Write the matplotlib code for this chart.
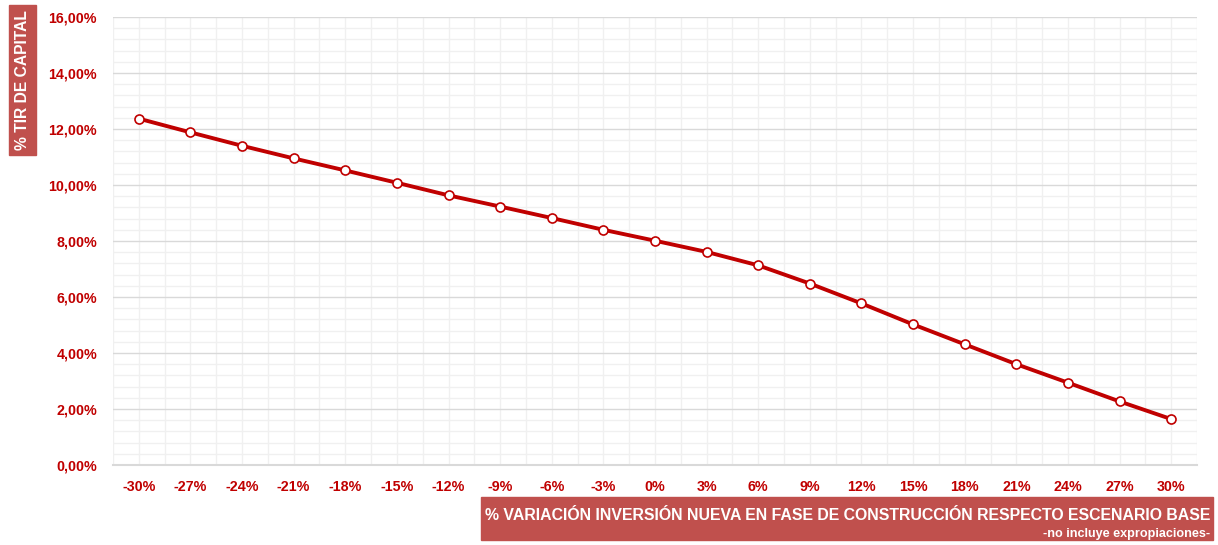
import numpy as np
import matplotlib.pyplot as plt
from matplotlib.patches import Rectangle
from matplotlib.ticker import FuncFormatter, MultipleLocator

# variacion de la inversion y TIR resultante
variacion = [-30, -27, -24, -21, -18, -15, -12, -9, -6, -3, 0, 3, 6, 9, 12, 15, 18, 21, 24, 27, 30]
tir = [12.37, 11.88, 11.40, 10.95, 10.52, 10.08, 9.63, 9.23, 8.82, 8.40, 8.01,
       7.61, 7.13, 6.48, 5.77, 5.02, 4.31, 3.60, 2.94, 2.27, 1.64]
etiquetas_x = [f"{v}%" for v in variacion]

rojo = '#C00000'
caja = '#C0504D'
plt.rcParams['font.family'] = ['Liberation Sans', 'DejaVu Sans']

fig = plt.figure(figsize=(12.18, 5.45), dpi=100)
ax = fig.add_axes([113 / 1218, 80 / 545, 1084 / 1218, 448 / 545])

x = np.arange(len(variacion))
ax.plot(x, tir, color=rojo, lw=2.8, marker='o', ms=6.5, mfc='white', mec=rojo, mew=1.2, zorder=5)

ax.set_xlim(-0.5, len(variacion) - 0.5)
ax.set_ylim(0, 16)
ax.set_xticks(x)
ax.set_xticklabels(etiquetas_x)
ax.yaxis.set_major_locator(MultipleLocator(2))
ax.yaxis.set_minor_locator(MultipleLocator(0.4))
ax.yaxis.set_major_formatter(FuncFormatter(lambda v, p: f"{v:.2f}".replace('.', ',') + '%'))

# rejilla
for xv in np.arange(-0.5, len(variacion), 0.5):
    ax.axvline(xv, color='#F0F0F0', lw=1, zorder=0)
ax.grid(axis='y', which='minor', color='#F0F0F0', lw=1, zorder=0)
ax.grid(axis='y', which='major', color='#D9D9D9', lw=1, zorder=1)

for s in ['top', 'right', 'left']:
    ax.spines[s].set_visible(False)
ax.spines['bottom'].set_color('#D9D9D9')
ax.spines['bottom'].set_linewidth(1.5)
ax.tick_params(axis='both', which='both', length=0, colors=rojo, labelsize=10.3)
ax.tick_params(axis='y', pad=11.5)
ax.tick_params(axis='x', pad=11)
for t in ax.get_xticklabels() + ax.get_yticklabels():
    t.set_fontweight('bold')

# titulo eje y
fig.patches.append(Rectangle((9 / 1218, 390 / 545), 27 / 1218, 150 / 545,
                             transform=fig.transFigure, color=caja, zorder=0))
t_y = fig.text(23 / 1218, 465 / 545, '% TIR DE CAPITAL', rotation=90, color='white',
               fontsize=12, fontweight='bold', ha='center', va='center')

# titulo eje x
fig.patches.append(Rectangle((481 / 1218, 5 / 545), 732 / 1218, 43 / 545,
                             transform=fig.transFigure, color=caja, zorder=0))
t_x1 = fig.text(1210 / 1218, 30 / 545, '% VARIACIÓN INVERSIÓN NUEVA EN FASE DE CONSTRUCCIÓN RESPECTO ESCENARIO BASE',
                color='white', fontsize=11, fontweight='bold', ha='right', va='center')
t_x2 = fig.text(1210 / 1218, 11 / 545, '-no incluye expropiaciones-',
                color='white', fontsize=8, fontweight='bold', ha='right', va='center')

# ajustar tamanos de los titulos al ancho de las cajas
r = fig.canvas.get_renderer()
for t, largo, vertical in [(t_y, 140, True), (t_x1, 723, False), (t_x2, 167, False)]:
    bb = t.get_window_extent(r)
    actual = bb.height if vertical else bb.width
    t.set_fontsize(t.get_fontsize() * largo / actual)

fig.savefig('out.png', dpi=100)
